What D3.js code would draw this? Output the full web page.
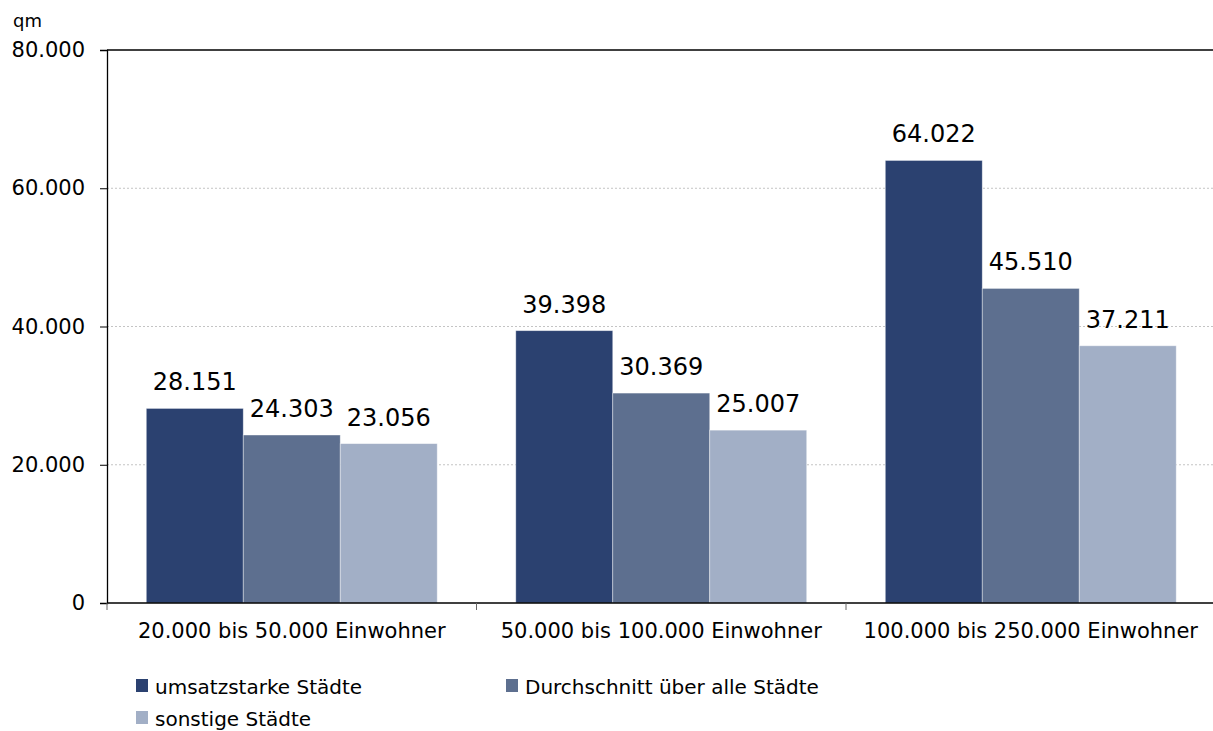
<!DOCTYPE html>
<html lang="de">
<head>
  <meta charset="UTF-8">
  <title>Verkaufsfläche nach Stadtgröße</title>
  <script src="https://d3js.org/d3.v7.min.js"></script>
  <style>
    body { margin: 0; background: #fff; font-family: "DejaVu Sans", sans-serif; }
    svg { display: block; }
  </style>
</head>
<body>
  <div id="viz"></div>
  <script>
    const categories = ["20.000 bis 50.000 Einwohner", "50.000 bis 100.000 Einwohner", "100.000 bis 250.000 Einwohner"];
    const seriesNames = ["umsatzstarke Städte", "Durchschnitt über alle Städte", "sonstige Städte"];
    const umsatzstark = [28151, 39398, 64022];
    const durchschnitt = [24303, 30369, 45510];
    const sonstige = [23056, 25007, 37211];
    const yTicks = [0, 20000, 40000, 60000, 80000];
    const colors = ["#2b4170", "#5d6f8f", "#a2afc6"];

    const values = [umsatzstark, durchschnitt, sonstige];
    const rows = categories.map((c, i) => ({
      category: c,
      bars: seriesNames.map((s, j) => ({ series: s, value: values[j][i], color: colors[j] }))
    }));

    const svgWidth = 1213, svgHeight = 731;
    const plotLeft = 107, plotRight = 1215.5, plotTop = 50, plotBottom = 603;

    const svg = d3.select("#viz").append("svg")
      .attr("width", svgWidth)
      .attr("height", svgHeight);

    const fmt = d3.formatLocale({ decimal: ",", thousands: ".", grouping: [3], currency: ["", "€"] }).format(",d");

    const x0 = d3.scaleBand().domain(categories).range([plotLeft, plotRight]).padding(0);
    const x1 = d3.scaleBand().domain(seriesNames).range([0, x0.bandwidth()])
      .paddingInner(0).paddingOuter(0.405);
    const y = d3.scaleLinear().domain([0, 80000]).range([plotBottom, plotTop]);

    // gridlines
    svg.append("g")
      .selectAll("line")
      .data(yTicks.filter(d => d > 0))
      .enter()
      .append("line")
      .attr("x1", plotLeft)
      .attr("x2", svgWidth)
      .attr("y1", d => y(d))
      .attr("y2", d => y(d))
      .attr("stroke", d => d === 80000 ? "#000" : "#c4c4c4")
      .attr("stroke-width", d => d === 80000 ? 1.3 : 1)
      .attr("stroke-dasharray", d => d === 80000 ? null : "2,2");

    // bars
    const groups = svg.append("g")
      .selectAll("g")
      .data(rows)
      .enter()
      .append("g")
      .attr("transform", d => `translate(${x0(d.category)},0)`);

    groups.selectAll("rect")
      .data(d => d.bars)
      .enter()
      .append("rect")
      .attr("x", d => x1(d.series))
      .attr("y", d => y(d.value))
      .attr("width", x1.bandwidth())
      .attr("height", d => y(0) - y(d.value))
      .attr("fill", d => d.color)
      .attr("stroke", "#ffffff")
      .attr("stroke-opacity", 0.5)
      .attr("stroke-width", 0.8);

    groups.selectAll("text")
      .data(d => d.bars)
      .enter()
      .append("text")
      .attr("x", d => x1(d.series) + x1.bandwidth() / 2)
      .attr("y", d => y(d.value) - 18)
      .attr("text-anchor", "middle")
      .attr("font-size", "24px")
      .attr("fill", "#000")
      .text(d => fmt(d.value));

    // y axis
    const yAxis = svg.append("g")
      .attr("transform", `translate(${plotLeft},0)`)
      .call(d3.axisLeft(y).tickValues(yTicks).tickSize(7).tickPadding(15).tickFormat(fmt));
    yAxis.select(".domain").attr("stroke", "#000").attr("stroke-width", 1.3);
    yAxis.selectAll(".tick line").attr("stroke", "#000");
    yAxis.selectAll(".tick text")
      .attr("font-family", "DejaVu Sans")
      .attr("font-size", "21px")
      .attr("fill", "#000");

    // x axis
    const xAxis = svg.append("g")
      .attr("transform", `translate(0,${plotBottom})`)
      .call(d3.axisBottom(x0).tickSize(0).tickPadding(20));
    xAxis.select(".domain").remove();
    xAxis.selectAll(".tick text")
      .attr("font-family", "DejaVu Sans")
      .attr("font-size", "21px")
      .attr("fill", "#000");
    svg.append("line")
      .attr("x1", plotLeft).attr("x2", svgWidth)
      .attr("y1", plotBottom).attr("y2", plotBottom)
      .attr("stroke", "#000").attr("stroke-width", 1.3);
    svg.append("g")
      .selectAll("line")
      .data(categories)
      .enter()
      .append("line")
      .attr("x1", d => x0(d))
      .attr("x2", d => x0(d))
      .attr("y1", plotBottom)
      .attr("y2", plotBottom + 7)
      .attr("stroke", "#666");

    // unit label
    svg.append("text")
      .attr("x", 13)
      .attr("y", 27)
      .attr("font-size", "18px")
      .attr("fill", "#000")
      .text("qm");

    // legend
    const legendPos = [[136, 694], [506, 694], [136, 726]];
    const legend = svg.append("g")
      .selectAll("g")
      .data(seriesNames)
      .enter()
      .append("g")
      .attr("transform", (d, i) => `translate(${legendPos[i][0]},${legendPos[i][1]})`);
    legend.append("rect")
      .attr("x", 0)
      .attr("y", -15)
      .attr("width", 12)
      .attr("height", 13)
      .attr("fill", (d, i) => colors[i]);
    legend.append("text")
      .attr("x", 19)
      .attr("y", 0)
      .attr("font-size", "20px")
      .attr("fill", "#000")
      .text(d => d);
  </script>
</body>
</html>
